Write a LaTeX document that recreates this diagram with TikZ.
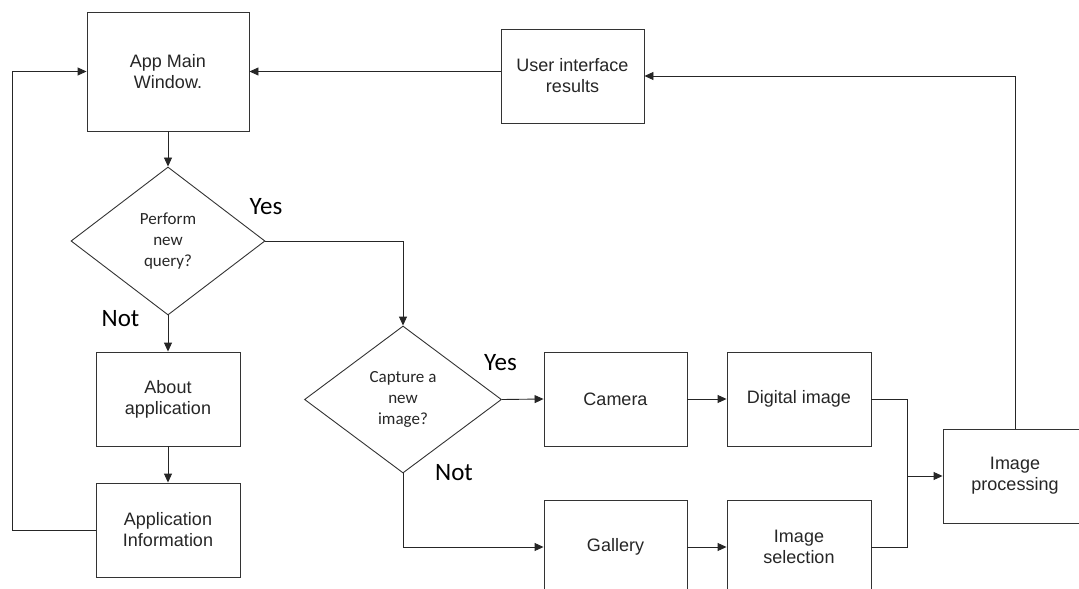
\documentclass[tikz,border=0pt]{standalone}
\usepackage{fontspec}
\setmainfont{Liberation Sans}
\newfontfamily\calib{Carlito}
\usetikzlibrary{shapes.geometric,arrows.meta}
\tikzset{
  x=1pt, y=-1pt,
  box/.style={draw=black!80, line width=0.9pt, fill=white, inner sep=0pt,
    align=center, text=black!85, font=\fontsize{18}{21}\selectfont},
  decision/.style={draw=black!80, line width=0.9pt, diamond, inner sep=0pt,
    align=center, text=black!85, font=\calib\fontsize{17}{21}\selectfont},
  answer/.style={inner sep=0pt, text=black, font=\calib\fontsize{25}{28}\selectfont},
  link/.style={draw=black!85, line width=0.9pt},
  flow/.style={link, -{Triangle[length=9pt,width=8pt]}}
}
\begin{document}
\begin{tikzpicture}
\useasboundingbox (0,0) rectangle (1079,589);
\clip (0,0) rectangle (1079,589);

% boxes
\node[box, minimum width=162, minimum height=119] (main) at (168,71.5) {App Main\\Window.};
\node[box, minimum width=143, minimum height=94] (ui) at (572.5,76) {User interface\\results};
\node[box, minimum width=144, minimum height=94] (about) at (168,399) {About\\application};
\node[box, minimum width=144, minimum height=94] (info) at (168,530) {Application\\Information};
\node[box, minimum width=143, minimum height=94] (camera) at (615.5,399) {Camera};
\node[box, minimum width=144, minimum height=94] (digital) at (799,399) {Digital image\strut};
\node[box, minimum width=143, minimum height=94] (gallery) at (615.5,547) {Gallery\strut};
\node[box, minimum width=144, minimum height=94] (select) at (799,547) {Image\\selection};
\node[box, minimum width=144, minimum height=94] (proc) at (1015,476) {Image\\processing};

% decisions
\node[decision, minimum width=194, minimum height=148] (query) at (168,241) {Perform\\new\\query?};
\node[decision, minimum width=197, minimum height=147] (capture) at (403,399.5) {Capture a\\new\\image?};

% branch labels
\node[answer] (yes1) at (266,207) {Yes};
\node[answer] (not1) at (120.5,319) {Not};
\node[answer] (yes2) at (500.5,363) {Yes};
\node[answer] (not2) at (454,473) {Not};

% junction points
\coordinate (back) at (12,530);
\coordinate (merge) at (907,476);
\coordinate (up) at (1015,76);

% connectors
\draw[flow] (main) -- (query);
\draw[flow] (query) -- (about);
\draw[flow] (about) -- (info);
\draw[flow] (info.west) -- (back) |- (main.west);
\draw[flow] (query.east) -| (capture.north);
\draw[flow] (capture.east) -- (camera.west);
\draw[flow] (capture.south) |- (gallery.west);
\draw[flow] (camera) -- (digital);
\draw[flow] (gallery) -- (select);
\draw[link] (digital.east) -| (merge) |- (select.east);
\draw[flow] (merge) -- (proc.west);
\draw[link] (proc.north) -- (up);
\draw[flow] (up) -- (ui.east);
\draw[flow] (main.east -| ui.west) -- (main.east);
\end{tikzpicture}
\end{document}
